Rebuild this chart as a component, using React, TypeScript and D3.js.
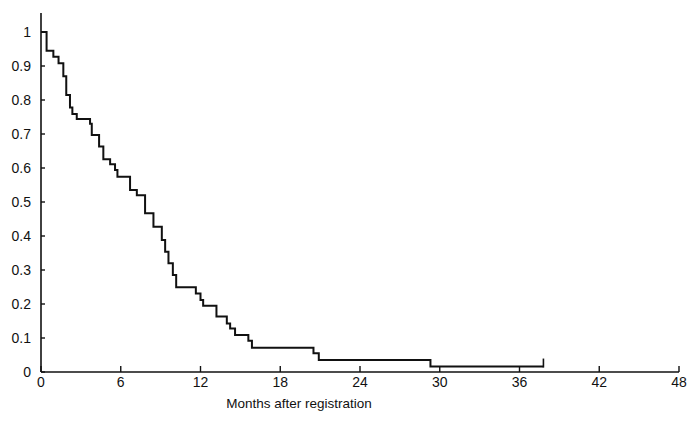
import React, { useEffect, useRef } from "react"
import * as d3 from "d3"

// Kaplan-Meier steps: month of each drop and survival after it
const stepMonths = [0, 0.42, 0.93, 1.32, 1.68, 1.9, 2.18, 2.36, 2.69, 3.69, 3.82, 4.37, 4.69, 5.2, 5.57, 5.75, 6.7, 7.21, 7.83, 8.46, 9.09, 9.34, 9.59, 9.92, 10.17, 11.65, 12.0, 12.2, 13.2, 13.98, 14.23, 14.6, 15.6, 15.87, 20.5, 20.9, 29.3, 37.8]
const stepSurvival = [1, 0.945, 0.927, 0.908, 0.87, 0.815, 0.778, 0.759, 0.744, 0.73, 0.697, 0.663, 0.626, 0.611, 0.594, 0.574, 0.535, 0.52, 0.467, 0.427, 0.388, 0.354, 0.32, 0.285, 0.249, 0.231, 0.212, 0.195, 0.163, 0.143, 0.128, 0.109, 0.092, 0.071, 0.055, 0.035, 0.016, 0.016]
const censorMonths = [37.8]
const xTicks = [0, 6, 12, 18, 24, 30, 36, 42, 48]
const yTicks = [0, 0.1, 0.2, 0.3, 0.4, 0.5, 0.6, 0.7, 0.8, 0.9, 1]
const xTitle = "Months after registration"

export default function App() {
    const ref = useRef<SVGSVGElement>(null)

    useEffect(() => {
        const svg = d3.select(ref.current)
        svg.selectAll("*").remove()
        const left = 41, right = 679, top = 32, bottom = 372
        const font = "'Liberation Sans', Arial, sans-serif"

        const x = d3.scaleLinear().domain([0, 48]).range([left, right])
        const y = d3.scaleLinear().domain([0, 1]).range([bottom, top])

        // axes
        svg.append("line")
            .attr("x1", left).attr("x2", left)
            .attr("y1", 13).attr("y2", bottom)
            .attr("stroke", "#111").attr("stroke-width", 1.6)
        svg.append("line")
            .attr("x1", left).attr("x2", right)
            .attr("y1", bottom).attr("y2", bottom)
            .attr("stroke", "#111").attr("stroke-width", 1.6)

        svg.append("g").selectAll("line")
            .data(yTicks)
            .enter()
            .append("line")
            .attr("x1", left).attr("x2", left + 4)
            .attr("y1", d => y(d)).attr("y2", d => y(d))
            .attr("stroke", "#111").attr("stroke-width", 1.4)
        svg.append("g").selectAll("text")
            .data(yTicks)
            .enter()
            .append("text")
            .attr("x", 31)
            .attr("y", d => y(d) + 5)
            .attr("text-anchor", "end")
            .attr("font-family", font)
            .attr("font-size", 14)
            .attr("fill", "#111")
            .text(d => d3.format("~g")(d))

        svg.append("g").selectAll("line")
            .data(xTicks)
            .enter()
            .append("line")
            .attr("x1", d => x(d)).attr("x2", d => x(d))
            .attr("y1", bottom).attr("y2", bottom - 6)
            .attr("stroke", "#111").attr("stroke-width", 1.4)
        svg.append("g").selectAll("text")
            .data(xTicks)
            .enter()
            .append("text")
            .attr("x", d => x(d))
            .attr("y", 387)
            .attr("text-anchor", "middle")
            .attr("font-family", font)
            .attr("font-size", 14)
            .attr("fill", "#111")
            .text(d => d)

        svg.append("text")
            .attr("x", 299)
            .attr("y", 408)
            .attr("text-anchor", "middle")
            .attr("font-family", font)
            .attr("font-size", 13.5)
            .attr("fill", "#111")
            .text(xTitle)

        // survival curve
        const pts: [number, number][] = stepMonths.map((m, i) => [m, stepSurvival[i]])
        const line = d3.line<[number, number]>()
            .x(d => x(d[0]))
            .y(d => y(d[1]))
            .curve(d3.curveStepAfter)
        svg.append("path")
            .datum(pts)
            .attr("d", line)
            .attr("fill", "none")
            .attr("stroke", "#111")
            .attr("stroke-width", 2)

        // censor marks
        svg.append("g").selectAll("line")
            .data(censorMonths)
            .enter()
            .append("line")
            .attr("x1", d => x(d)).attr("x2", d => x(d))
            .attr("y1", y(0.016) + 1).attr("y2", y(0.016) - 8)
            .attr("stroke", "#111").attr("stroke-width", 1.6)
    }, [])

    return (
        <svg ref={ref} width={690} height={424}
            style={{ position: "absolute", left: 0, top: 0, background: "#fff" }} />
    )
}
